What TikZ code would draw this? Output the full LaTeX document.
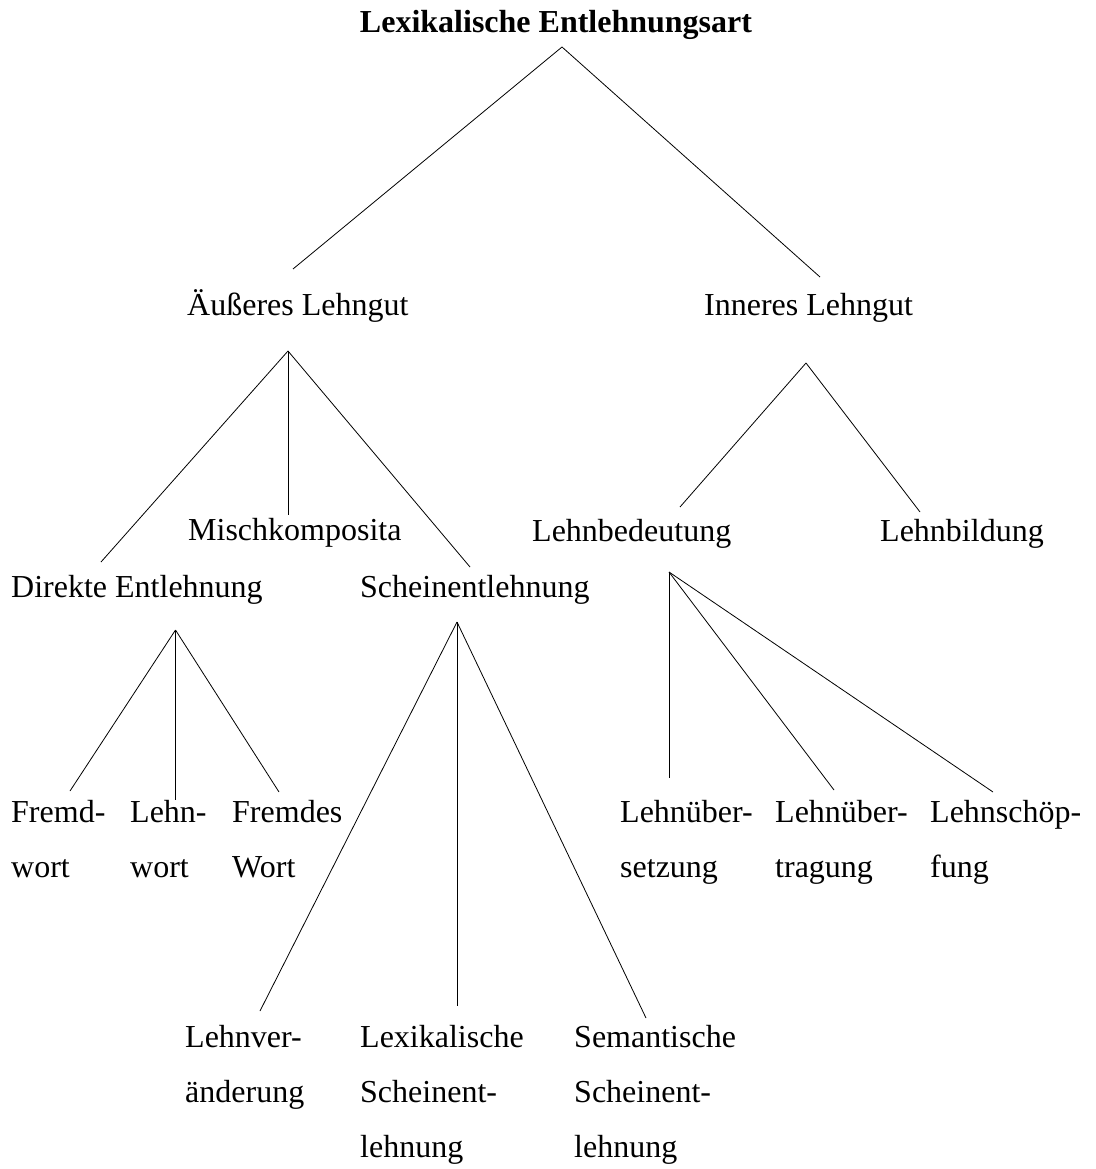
\documentclass[tikz,border=0pt]{standalone}
\usepackage{fontspec}
\setmainfont{Liberation Serif}
\tikzset{
  lbl/.style={inner sep=0pt, anchor=base west, align=left, font=\fontsize{32}{55}\selectfont},
  branch/.style={line width=0.8pt}
}
\begin{document}
\begin{tikzpicture}[x=1pt,y=-1pt]
  \useasboundingbox (0,0) rectangle (1095,1169);
  % labels (multi-line ones sit on their last baseline)
  \node[lbl,anchor=base,font=\fontsize{32}{55}\selectfont\bfseries] (lex) at (556,33) {Lexikalische Entlehnungsart};
  \node[lbl] (aus) at (187,315) {Äußeres Lehngut};
  \node[lbl] (inn) at (704,315) {Inneres Lehngut};
  \node[lbl] (misch) at (188,540) {Mischkomposita};
  \node[lbl] (lbed) at (532,541) {Lehnbedeutung};
  \node[lbl] (lbil) at (880,541) {Lehnbildung};
  \node[lbl] (dir) at (11,597) {Direkte Entlehnung};
  \node[lbl] (schein) at (360,597) {Scheinentlehnung};
  \node[lbl] (fremd) at (11,877) {Fremd-\\wort};
  \node[lbl] (lehnw) at (130,877) {Lehn-\\wort};
  \node[lbl] (fremdes) at (232,877) {Fremdes\\Wort};
  \node[lbl] (lueb) at (620,877) {Lehnüber-\\setzung};
  \node[lbl] (luet) at (775,877) {Lehnüber-\\tragung};
  \node[lbl] (lsch) at (930,877) {Lehnschöp-\\fung};
  \node[lbl] (lver) at (185,1102) {Lehnver-\\änderung};
  \node[lbl] (lexs) at (360,1157) {Lexikalische\\Scheinent-\\lehnung};
  \node[lbl] (sems) at (574,1157) {Semantische\\Scheinent-\\lehnung};
  % branch points
  \coordinate (lex-a) at (562,47);
  \coordinate (aus-a) at (288,351);
  \coordinate (inn-a) at (806,363);
  \coordinate (dir-a) at (175.5,630);
  \coordinate (schein-a) at (457,622);
  \coordinate (lbed-a) at (669,572);
  % branch ends
  \coordinate (aus-t) at (293,269);
  \coordinate (inn-t) at (820,277);
  \coordinate (dir-t) at (101,562);
  \coordinate (misch-t) at (288,515);
  \coordinate (schein-t) at (470,567);
  \coordinate (lbed-t) at (680,507);
  \coordinate (lbil-t) at (920,512);
  \coordinate (fremd-t) at (70,791);
  \coordinate (lehnw-t) at (175.5,800);
  \coordinate (fremdes-t) at (279,792);
  \coordinate (lver-t) at (260,1011);
  \coordinate (lexs-t) at (457,1006);
  \coordinate (sems-t) at (646,1018);
  \coordinate (lueb-t) at (669,778);
  \coordinate (luet-t) at (834,790);
  \coordinate (lsch-t) at (993,792);
  % connectors
  \foreach \e in {aus,inn} \draw[branch] (lex-a) -- (\e-t);
  \foreach \e in {dir,misch,schein} \draw[branch] (aus-a) -- (\e-t);
  \foreach \e in {lbed,lbil} \draw[branch] (inn-a) -- (\e-t);
  \foreach \e in {fremd,lehnw,fremdes} \draw[branch] (dir-a) -- (\e-t);
  \foreach \e in {lver,lexs,sems} \draw[branch] (schein-a) -- (\e-t);
  \foreach \e in {lueb,luet,lsch} \draw[branch] (lbed-a) -- (\e-t);
\end{tikzpicture}
\end{document}
